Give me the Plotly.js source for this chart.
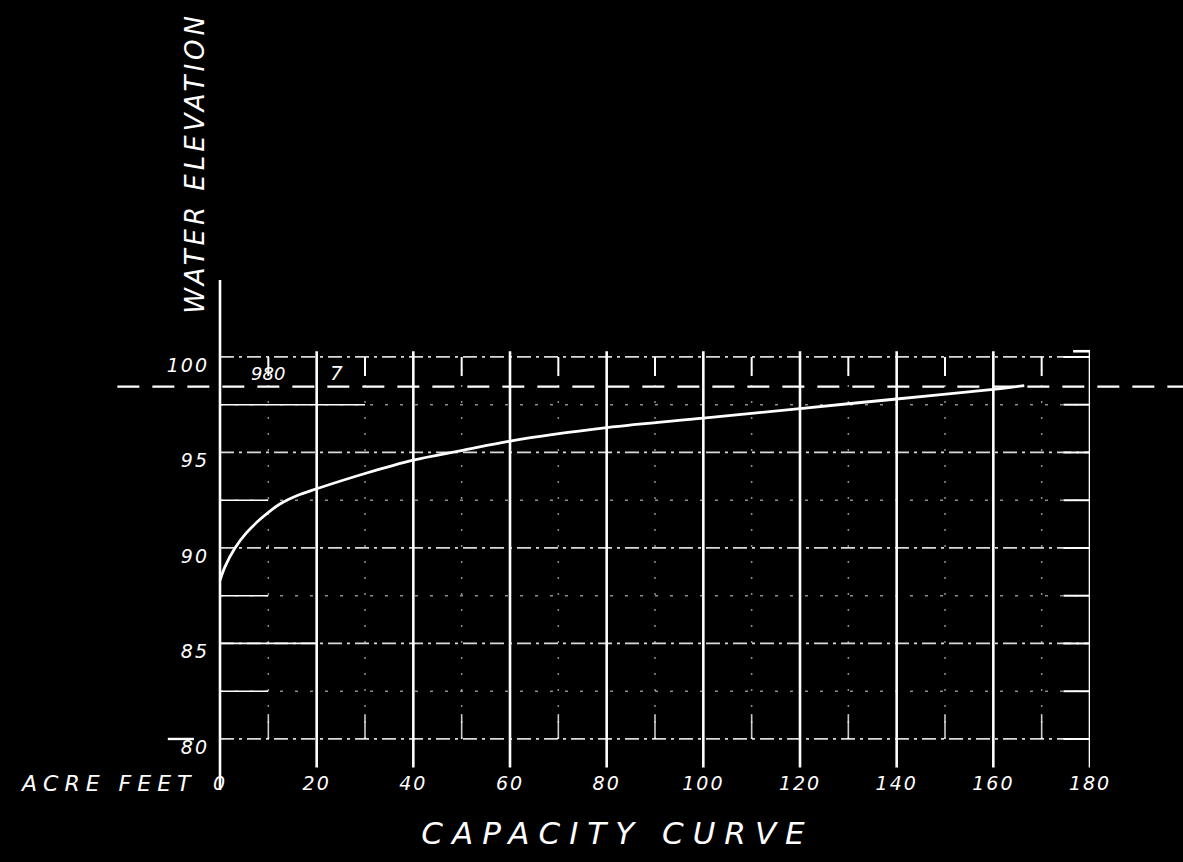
<!DOCTYPE html>
<html>
<head>
<meta charset="utf-8">
<script src="https://cdn.plot.ly/plotly-3.0.1.min.js"></script>
<style>
html,body{margin:0;padding:0;background:#000;}
#chart{width:1183px;height:862px;}
#chart .gtitle{letter-spacing:9px;}
#chart g.annotation[data-index="0"] text{letter-spacing:4px;}
#chart g.annotation[data-index="1"] text{letter-spacing:6px;}
#chart .xtick text, #chart .ytick text{letter-spacing:2px;}
</style>
</head>
<body>
<div id="chart"></div>
<script>
// Capacity curve: acre feet vs water elevation
const capacityAcreFeet = [0, 1, 3.1, 5.5, 8.3, 12.4, 16, 20, 30, 40, 50, 60, 80, 100, 120, 140, 160, 166.4];
const waterElevation   = [88.3, 89.0, 90.0, 90.8, 91.5, 92.3, 92.75, 93.1, 93.9, 94.6, 95.1, 95.6, 96.3, 96.8, 97.3, 97.8, 98.3, 98.5];
const xTickValues = [0, 20, 40, 60, 80, 100, 120, 140, 160, 180];
const xTickLabels = ['0', '20', '40', '60', '80', '100', '120', '140', '160', '180'];
const xMinorValues = [10, 30, 50, 70, 90, 110, 130, 150, 170];
const yTickValues = [80, 85, 90, 95, 100];
const yTickLabels = ['80', '85', '90', '95', '100'];
const yGridValues = [80, 82.5, 85, 87.5, 90, 92.5, 95, 97.5, 100];
const waterLevel = 98.45;
const waterLevelLabel = '980';

const FONT = 'DejaVu Sans, Liberation Sans, sans-serif';
const W = 'rgba(255,255,255,1)';

const shapes = [];
// major vertical lines
xTickValues.forEach(v => {
  if (v === 0) return;
  shapes.push({type:'line', xref:'x', yref:'y', x0:v, x1:v, y0:78.5, y1:100.3,
    line:{color:W, width:2.6}});
});
// y axis line (extends above and below)
shapes.push({type:'line', xref:'paper', yref:'paper', x0:0, x1:0, y0:-0.045, y1:1,
  line:{color:W, width:2.6}});
// minor vertical dotted lines + short ticks
xMinorValues.forEach(v => {
  shapes.push({type:'line', xref:'x', yref:'y', x0:v, x1:v, y0:80, y1:100,
    line:{color:'rgba(255,255,255,0.55)', width:1.5, dash:'2px,14px'}});
  shapes.push({type:'line', xref:'x', yref:'y', x0:v, x1:v, y0:99.0, y1:100,
    line:{color:W, width:2}});
  shapes.push({type:'line', xref:'x', yref:'y', x0:v, x1:v, y0:80, y1:81.3,
    line:{color:'rgba(255,255,255,0.8)', width:1.6}});
});
// horizontal dash-dot grid lines
yGridValues.forEach(v => {
  const major = (v % 5 === 0);
  shapes.push({type:'line', xref:'x', yref:'y', x0:0, x1:180, y0:v, y1:v,
    line:{color: major ? 'rgba(255,255,255,0.85)' : 'rgba(255,255,255,0.55)',
          width: major ? 1.8 : 1.4, dash: major ? '14px,5px,3px,5px' : '3px,12px'}});
  // short ticks at right edge
  shapes.push({type:'line', xref:'x', yref:'y', x0:174.5, x1:180, y0:v, y1:v,
    line:{color:W, width:2}});
});
// solid segments near axis
shapes.push({type:'line', xref:'x', yref:'y', x0:0, x1:20, y0:85, y1:85, line:{color:W, width:1.8}});
shapes.push({type:'line', xref:'x', yref:'y', x0:0, x1:30, y0:97.5, y1:97.5, line:{color:W, width:1.6}});
shapes.push({type:'line', xref:'x', yref:'y', x0:0, x1:10, y0:92.5, y1:92.5, line:{color:W, width:1.6}});
shapes.push({type:'line', xref:'x', yref:'y', x0:0, x1:10, y0:87.5, y1:87.5, line:{color:W, width:1.6}});
shapes.push({type:'line', xref:'x', yref:'y', x0:0, x1:10, y0:82.5, y1:82.5, line:{color:W, width:1.6}});
// top T at 180
shapes.push({type:'line', xref:'x', yref:'y', x0:176.5, x1:181.5, y0:100.3, y1:100.3, line:{color:W, width:2.6}});
// water level dashed line (extends beyond plot)
shapes.push({type:'line', xref:'paper', yref:'y', x0:-0.118, x1:1.11, y0:waterLevel, y1:waterLevel,
  line:{color:W, width:2.4, dash:'22px,13px'}});
// underline dash near the 80 label
shapes.push({type:'line', xref:'paper', yref:'y', x0:-0.06, x1:-0.03, y0:80, y1:80, line:{color:W, width:2.4}});

const traces = [{
  type:'scatter', mode:'lines',
  x: capacityAcreFeet, y: waterElevation,
  line:{color:W, width:2.8, shape:'spline', smoothing:1.0},
  hoverinfo:'x+y', showlegend:false
}];

const layout = {
  width:1183, height:862,
  paper_bgcolor:'#000', plot_bgcolor:'#000',
  margin:{l:220, r:93, t:280, b:94},
  showlegend:false,
  font:{family:FONT, color:W},
  title:{text:'<i>CAPACITY CURVE</i>', font:{family:FONT, size:31, color:W},
    x:0.522, y:0.034, xref:'container', yref:'container', xanchor:'center', yanchor:'middle'},
  xaxis:{range:[0,180], showgrid:false, zeroline:false, showline:false, ticks:'',
    tickmode:'array', tickvals:xTickValues, ticktext:xTickLabels.map(t => '<i>'+t+'</i>'),
    tickfont:{family:FONT, size:19, color:W}, ticklabelstandoff:2, fixedrange:true},
  yaxis:{range:[78.48,104.03], showgrid:false, zeroline:false, showline:false, ticks:'',
    tickmode:'array', tickvals:yTickValues, ticktext:yTickLabels.map(t => '<i>'+t+'</i>'),
    tickfont:{family:FONT, size:19, color:W}, ticklabelshift:8, ticklabelstandoff:10, fixedrange:true},
  shapes: shapes,
  annotations:[
    {text:'<i>WATER ELEVATION</i>', xref:'paper', yref:'paper', x:-0.029, y:1.24,
      textangle:-90, showarrow:false, xanchor:'center', yanchor:'middle',
      font:{family:FONT, size:26, color:W}},
    {text:'<i>ACRE FEET</i>', xref:'paper', yref:'paper', x:-0.1276, y:-0.031,
      showarrow:false, xanchor:'center', yanchor:'middle',
      font:{family:FONT, size:22, color:W}},
    {text:'<i>'+waterLevelLabel+'</i>', xref:'x', yref:'y', x:10, y:waterLevel,
      showarrow:false, xanchor:'center', yanchor:'bottom', yshift:1,
      font:{family:FONT, size:18, color:W}},
    {text:'<i>7</i>', xref:'x', yref:'y', x:24, y:waterLevel,
      showarrow:false, xanchor:'center', yanchor:'bottom', yshift:0,
      font:{family:FONT, size:20, color:W}}
  ]
};

Plotly.newPlot('chart', traces, layout, {staticPlot:true, displayModeBar:false});
</script>
</body>
</html>
